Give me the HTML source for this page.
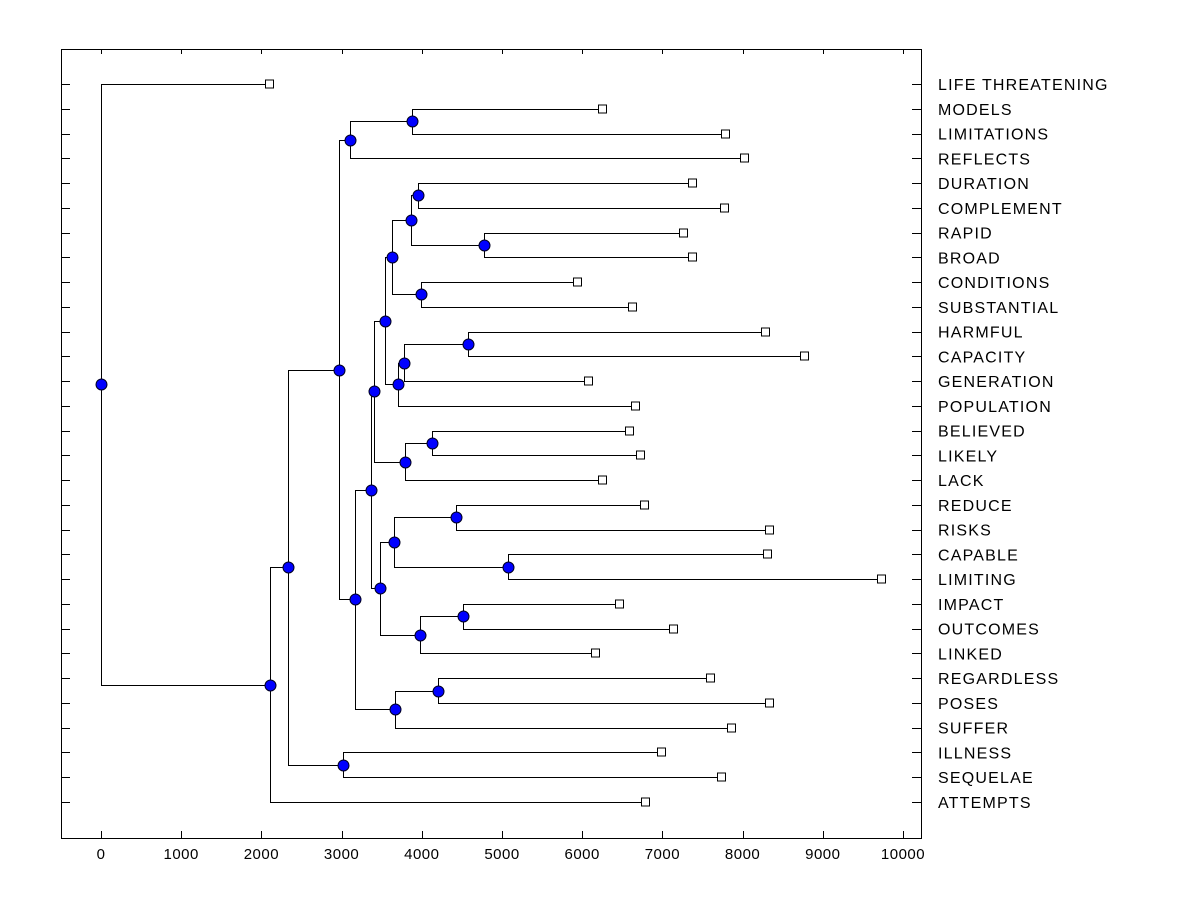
<!DOCTYPE html>
<html><head><meta charset="utf-8"><style>
body{margin:0;background:#fff;}
svg{display:block;font-family:"Liberation Sans",Arial,sans-serif;}
</style></head><body>
<svg id="chart" width="1200" height="900"></svg>
<script>
const leafNames=["LIFE THREATENING","MODELS","LIMITATIONS","REFLECTS","DURATION","COMPLEMENT","RAPID","BROAD","CONDITIONS","SUBSTANTIAL","HARMFUL","CAPACITY","GENERATION","POPULATION","BELIEVED","LIKELY","LACK","REDUCE","RISKS","CAPABLE","LIMITING","IMPACT","OUTCOMES","LINKED","REGARDLESS","POSES","SUFFER","ILLNESS","SEQUELAE","ATTEMPTS"];
const leafValues=[2107,6259,7793,8030,7382,7781,7269,7382,5948,6633,8292,8778,6085,6671,6596,6733,6259,6783,8342,8317,9738,6471,7145,6172,7606,8342,7868,6995,7743,6796];
const nodeIds=["root","A","B","C","D","E","F","G","H","I","J","K","L","M","N","O","P","Q","R","S","T","U","V","W","X","Y","Z","AA","BB"];
const nodeHeights=[0,2107,2332,2968,3017,3105,3167,3878,3367,3666,4202,3404,3479,3653,3978,4426,5075,4514,3541,3791,4127,3628,3703,3865,3990,3953,4776,3778,4576];
const nodeLeft=["L0","B","C","E","L27","G","H","L1","K","J","L24","R","M","O","Q","L17","L19","L21","U","T","L14","W","AA","Y","L8","L4","L6","BB","L10"];
const nodeRight=["A","L29","D","F","L28","L3","I","L2","L","L26","L25","S","N","P","L23","L18","L20","L22","V","L16","L15","X","L13","Z","L9","L5","L7","L12","L11"];
const xTicks=[0,1000,2000,3000,4000,5000,6000,7000,8000,9000,10000];

const svg=document.getElementById('chart');
const NS='http://www.w3.org/2000/svg';
const X0=101,X1=903,L=61,R=921,T=49,B=838;
const sx=v=>X0+(v-0)*(X1-X0)/10000;
const rowY=i=>84+i*(802-84)/29;
function mk(t,a){const e=document.createElementNS(NS,t);for(const k in a)e.setAttribute(k,a[k]);svg.appendChild(e);return e;}

const frame=mk('rect',{x:L+0.5,y:T+0.5,width:R-L,height:B-T,fill:'none',stroke:'#000','stroke-width':1});



xTicks.forEach(v=>{
  const x=Math.round(sx(v))+0.5;
  const t1=mk('line',{x1:x,y1:B,x2:x,y2:B-7,stroke:'#000'});
  
  
  const t2=mk('line',{x1:x,y1:T,x2:x,y2:T+5,stroke:'#000'});
  
  
  const tx=mk('text',{x:sx(v),y:859,'text-anchor':'middle','font-size':15,fill:'#000','letter-spacing':0.5});
  tx.textContent=v;
  
  
});

leafNames.forEach((n,i)=>{
  const y=Math.round(rowY(i))+0.5;
  const a=mk('line',{x1:L,y1:y,x2:L+9,y2:y,stroke:'#000'});
  
  
  const b=mk('line',{x1:R-9,y1:y,x2:R,y2:y,stroke:'#000'});
  
  
  const t=mk('text',{x:938,y:rowY(i)+6,'font-size':16,fill:'#000','letter-spacing':1.2});
  t.textContent=n;
  
  
});

const pos={};
leafValues.forEach((v,i)=>{pos['L'+i]={x:sx(v),y:rowY(i)};});
function resolve(id){
  if(pos[id])return pos[id];
  const k=nodeIds.indexOf(id);
  const a=resolve(nodeLeft[k]),b=resolve(nodeRight[k]);
  pos[id]={x:sx(nodeHeights[k]),y:(a.y+b.y)/2};
  return pos[id];
}
resolve('root');
const circles=[];
nodeIds.forEach((id,k)=>{
  const p=pos[id],a=pos[nodeLeft[k]],b=pos[nodeRight[k]];
  const x=Math.round(p.x)+0.5;
  const path=mk('path',{d:`M${Math.round(a.x)} ${Math.round(a.y)+0.5}H${x}V${Math.round(b.y)+0.5}H${Math.round(b.x)}`,fill:'none',stroke:'#000','stroke-width':1});
  
  
  circles.push(p);
});
leafValues.forEach((v,i)=>{
  const p=pos['L'+i];
  const s=mk('rect',{x:Math.round(p.x)-4.5,y:Math.round(p.y)-4,width:8,height:8,fill:'#fff',stroke:'#000'});
  
  
});
circles.forEach(p=>{
  const c=mk('circle',{cx:Math.round(p.x)+0.5,cy:Math.round(p.y)+0.5,r:5.5,fill:'#0000ff',stroke:'#000020','stroke-width':1});
  
  
});
</script>
</body></html>
